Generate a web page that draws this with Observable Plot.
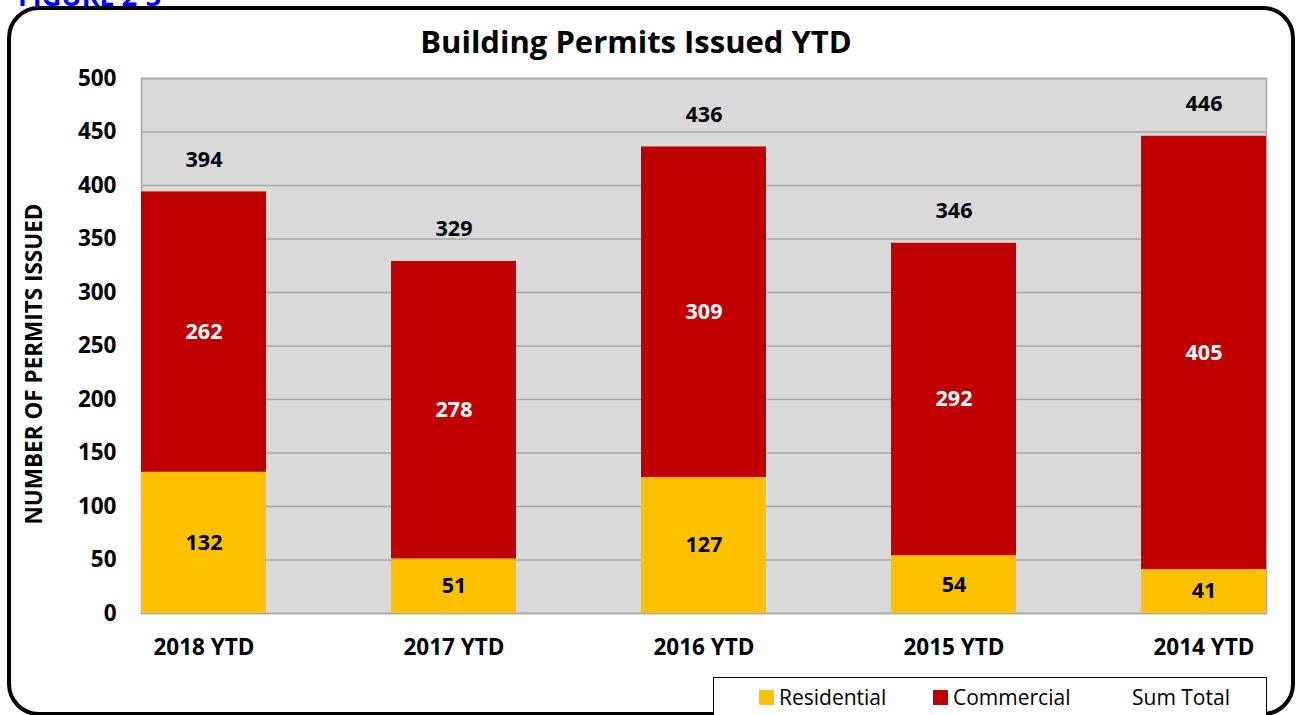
<!DOCTYPE html>
<html>
<head>
<meta charset="utf-8">
<script src="https://cdn.jsdelivr.net/npm/d3@7"></script>
<script src="https://cdn.jsdelivr.net/npm/@observablehq/plot@0.6"></script>
<style>
  html, body { margin: 0; padding: 0; background: #fff; overflow: hidden; }
  #wrap { position: relative; width: 1299px; height: 715px; font-family: "Open Sans", sans-serif; }
  #chart { position: absolute; left: 0; top: 0; }
  .abs { position: absolute; white-space: nowrap; }
  #fig { left: 18px; top: -20px; font-size: 27px; font-weight: bold; color: #0000ff; line-height: 32px; }
  #title { left: 0; width: 1272px; text-align: center; top: 19px; font-size: 31px; font-weight: bold; color: #000; line-height: 44px; }
  #ylab { left: 33px; top: 364px; transform: translate(-50%, -50%) rotate(-90deg); font-size: 22.5px; font-weight: bold; color: #000; }
  #legend { left: 713px; top: 677px; width: 554px; height: 50px; border: 1.5px solid #000; background: #fff; box-sizing: border-box; }
  .li { position: absolute; top: 5px; font-size: 21px; color: #000; display: flex; align-items: center; }
  .sw { width: 15px; height: 15px; margin-right: 5px; }
  #frame { position: absolute; left: 0; top: 0; pointer-events: none; }
</style>
</head>
<body>
<div id="wrap">
  <div id="chart"></div>
  <svg id="frame" width="1299" height="715"><rect x="9" y="8" width="1284" height="706" rx="30" ry="30" fill="none" stroke="#000" stroke-width="4"/></svg>
  <div class="abs" id="fig">FIGURE 2-3</div>
  <div class="abs" id="title">Building Permits Issued YTD</div>
  <div class="abs" id="ylab">NUMBER OF PERMITS ISSUED</div>
  <div class="abs" id="legend"></div>
</div>
<script>
const years = ["2018 YTD", "2017 YTD", "2016 YTD", "2015 YTD", "2014 YTD"];
const residential = [132, 51, 127, 54, 41];
const commercial = [262, 278, 309, 292, 405];
const totals = [394, 329, 436, 346, 446];
const seriesNames = ["Residential", "Commercial", "Sum Total"];
const seriesColors = ["#ffc000", "#c00000"];
const yTicks = [0, 50, 100, 150, 200, 250, 300, 350, 400, 450, 500];

const rows = [];
years.forEach((y, i) => {
  rows.push({year: y, type: "Residential", value: residential[i]});
  rows.push({year: y, type: "Commercial", value: commercial[i]});
});
const totalRows = years.map((y, i) => ({year: y, total: totals[i]}));

const chart = Plot.plot({
  width: 1299,
  height: 715,
  marginLeft: 141,
  marginRight: 33,
  marginTop: 78,
  marginBottom: 102,
  style: {fontFamily: "'Open Sans', sans-serif", fontSize: "22.5px", fontWeight: "bold", color: "#000", background: "transparent"},
  x: {domain: years, paddingInner: 0.5, paddingOuter: 0, label: null, tickSize: 0, tickPadding: 26},
  y: {domain: [0, 500], ticks: yTicks, label: null, tickSize: 0, tickPadding: 25},
  color: {domain: seriesNames.slice(0, 2), range: seriesColors},
  marks: [
    Plot.frame({fill: "#d9d9d9", stroke: "#a6a6a6", strokeWidth: 1.5}),
    Plot.gridY(yTicks, {stroke: "#a6a6a6", strokeOpacity: 1, strokeWidth: 1.5}),
    Plot.barY(rows, {x: "year", y: "value", fill: "type", order: seriesNames.slice(0, 2), inset: 0}),
    Plot.text(rows, Plot.stackY({
      x: "year", y: "value", text: "value", z: "type", order: seriesNames.slice(0, 2),
      fill: d => d.type === "Commercial" ? "#fff" : "#000",
      fontWeight: "bold", fontSize: 21.5
    })),
    Plot.text(totalRows, {x: "year", y: "total", text: "total", dy: -32, fill: "#000", fontWeight: "bold", fontSize: 21.5})
  ]
});
document.getElementById("chart").appendChild(chart);

// legend
const legend = document.getElementById("legend");
const pos = [45, 219, 418];
seriesNames.forEach((name, i) => {
  const it = document.createElement("div");
  it.className = "li";
  it.style.left = pos[i] + "px";
  if (i < 2) {
    const sw = document.createElement("span");
    sw.className = "sw";
    sw.style.background = seriesColors[i];
    it.appendChild(sw);
  }
  const t = document.createElement("span");
  t.textContent = name;
  it.appendChild(t);
  legend.appendChild(it);
});
</script>
</body>
</html>
